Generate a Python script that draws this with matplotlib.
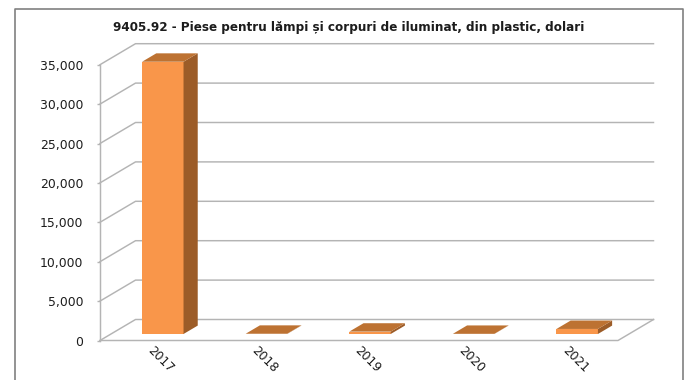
import matplotlib
matplotlib.use('Agg')
import matplotlib.pyplot as plt
from matplotlib.lines import Line2D
from matplotlib.patches import Polygon
from matplotlib.transforms import ScaledTranslation
import numpy as np

years = ['2017', '2018', '2019', '2020', '2021']
values = [34550, 30, 300, 20, 640]
y_ticks = [0, 5000, 10000, 15000, 20000, 25000, 30000, 35000]
title = '9405.92 - Piese pentru lămpi și corpuri de iluminat, din plastic, dolari'

W, H = 689, 380
line_col = '#b4b4b4'
text_col = '#1c1c1c'

fig = plt.figure(figsize=(W / 100, H / 100), dpi=100)
# axes box is the front plane of the fake 3D chart
ax = fig.add_axes([100 / W, 1 - 340.5 / H, 518 / W, 275.8 / H])
ax.set_xlim(0, 5)
ax.set_ylim(0, 35000)
for s in ax.spines.values():
    s.set_visible(False)
ax.patch.set_visible(False)

# depth offset of the chart, in data units
dx_floor = 35.5 / 518 * 5
dy_floor = 21 / 275.8 * 35000


def shift(x, y, depth):
    return x + depth * dx_floor, y + depth * dy_floor


# walls and floor
for t in y_ticks:
    bx, by = shift(0, t, 1)
    ax.plot([0, bx, bx + 5], [t, by, by], color=line_col, lw=1.05, clip_on=False, zorder=1)
ax.plot([0, 0], [0, 35000], color=line_col, lw=1.05, clip_on=False, zorder=1)
bx, by = shift(5, 0, 1)
ax.plot([0, 5, bx], [0, 0, by], color=line_col, lw=1.05, clip_on=False, zorder=1)

# bars
pos = np.arange(len(years)) + 0.5
bar_w = 0.4
d_front = 0.31
d_back = 0.71
fx, fy = shift(pos, 0, d_front)
ax.bar(fx, values, width=bar_w, bottom=fy, color='#f9964a', zorder=3, clip_on=False)
for x0, v in zip(fx, values):
    x1 = x0 + bar_w / 2
    x_l = x0 - bar_w / 2
    dd = d_back - d_front
    sx, sy = shift(x1, fy + v, dd)
    sx0, sy0 = shift(x_l, fy + v, dd)
    side = [(x1, fy), (x1, fy + v), (sx, sy), (sx, sy - v)]
    top = [(x_l, fy + v), (x1, fy + v), (sx, sy), (sx0, sy)]
    ax.add_patch(Polygon(side, closed=True, fc='#9c5c28', ec='none', zorder=3, clip_on=False))
    ax.add_patch(Polygon(top, closed=True, fc='#bd7232', ec='none', zorder=4, clip_on=False))

ax.set_yticks(y_ticks)
ax.set_yticklabels([f'{t:,}' for t in y_ticks], fontsize=8.9, color=text_col)
ax.tick_params(axis='y', length=2, width=1, color=line_col, pad=10)
ax.set_xticks(fx)
ax.set_xticklabels(years, rotation=-45, fontsize=8.8, color=text_col, ha='center', va='center')
ax.tick_params(axis='x', length=0, pad=14)
nudge = ScaledTranslation(-2 / 100, 0, fig.dpi_scale_trans)
for lab in ax.get_xticklabels():
    lab.set_transform(lab.get_transform() + nudge)

fig.text(348.5 / W, 1 - 27 / H, title, ha='center', va='center', fontsize=8.65,
         fontweight='bold', color=text_col)

# outer frame, cut off at the bottom of the picture
frame_x = [15 / W, 15 / W, 683 / W, 683 / W]
frame_y = [0, 1 - 8.5 / H, 1 - 8.5 / H, 0]
fig.add_artist(Line2D(frame_x, frame_y, color='#808080', lw=1.2))

fig.savefig('out.png', dpi=100)
